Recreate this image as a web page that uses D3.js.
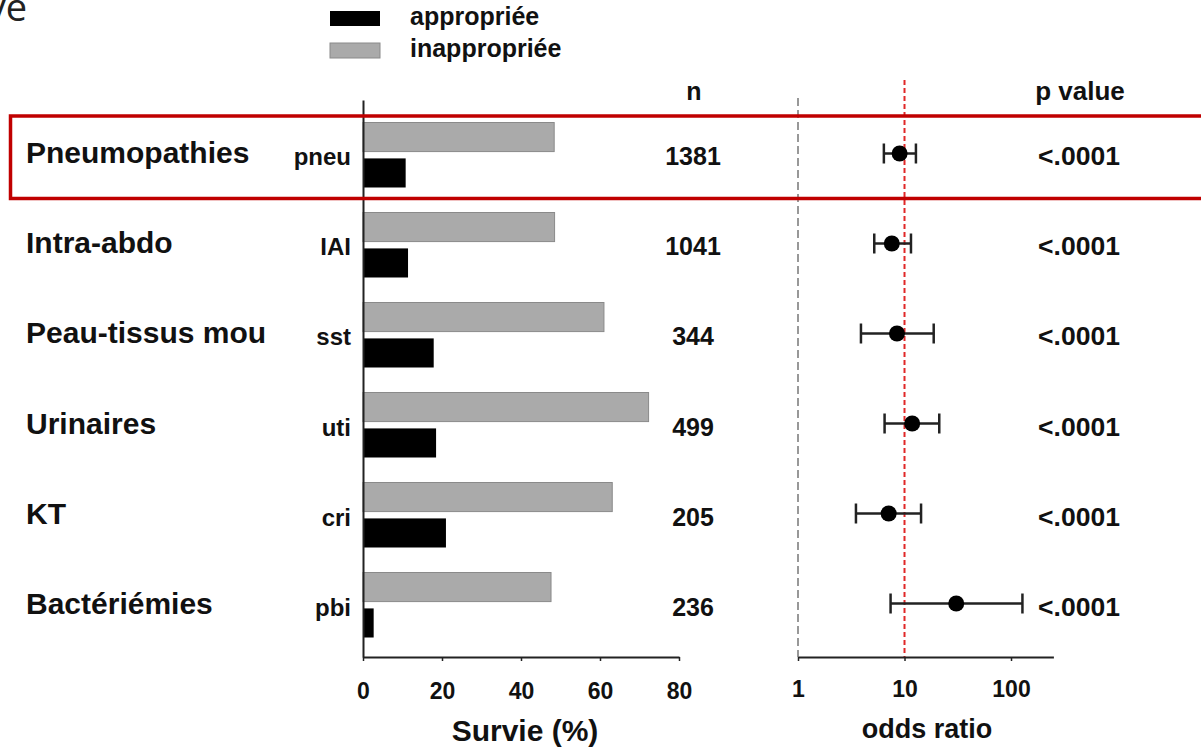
<!DOCTYPE html>
<html>
<head>
<meta charset="utf-8">
<script src="https://cdn.jsdelivr.net/npm/d3@7"></script>
<style>
  html, body { margin: 0; padding: 0; background: #fff; }
  svg { display: block; }
  .chart-text { font-family: "Liberation Sans", Arial, sans-serif; font-weight: bold; fill: #111; }
</style>
</head>
<body>
<svg id="chart" width="1201" height="750"></svg>
<script>
// Infection sites (short codes on the bar axis, full names on the left)
const siteCodes = ["pneu", "IAI", "sst", "uti", "cri", "pbi"];
const siteNames = ["Pneumopathies", "Intra-abdo", "Peau-tissus mou", "Urinaires", "KT", "Bactériémies"];

// Survival (%) by antibiotic therapy adequacy
const survieAppropriee = [10.8, 11.4, 17.9, 18.5, 21.0, 2.7];
const survieInappropriee = [48.4, 48.5, 61.0, 72.3, 63.1, 47.6];

// Number of patients per site
const nPatients = [1381, 1041, 344, 499, 205, 236];

// Odds ratios with 95% confidence intervals
const oddsRatio = [9.0, 7.6, 8.5, 11.8, 7.1, 30.6];
const ciLow = [6.4, 5.2, 3.9, 6.5, 3.5, 7.4];
const ciHigh = [12.8, 11.5, 18.8, 21.2, 14.3, 128];
const pValues = ["<.0001", "<.0001", "<.0001", "<.0001", "<.0001", "<.0001"];

// Axis ticks
const survieTicks = [0, 20, 40, 60, 80];
const oddsTicks = [1, 10, 100];

// Legend series
const seriesNames = ["appropriée", "inappropriée"];
const seriesColors = { "appropriée": "#000000", "inappropriée": "#aaaaaa" };

const svg = d3.select("#chart");

// ---- scales ----
const y = d3.scaleBand().domain(siteCodes).range([100, 657]).paddingInner(0).paddingOuter(0.0944);
const yInner = d3.scaleBand().domain(["inappropriée", "appropriée"]).range([14, 79]).paddingInner(0.19);
const xSurv = d3.scaleLinear().domain([0, 80]).range([363, 679]);
const xOdds = d3.scaleLog().domain([1, 250]).range([798, 1053.4]);

const rows = siteCodes.map((code, i) => ({
  code, name: siteNames[i],
  appropriee: survieAppropriee[i], inappropriee: survieInappropriee[i],
  n: nPatients[i], or: oddsRatio[i], lo: ciLow[i], hi: ciHigh[i], p: pValues[i]
}));

// ---- legend ----
const legend = svg.append("g");
seriesNames.forEach((s, i) => {
  legend.append("rect")
    .attr("x", 330).attr("y", 11 + i * 32).attr("width", 50).attr("height", 15)
    .attr("fill", seriesColors[s])
    .attr("stroke", s === "inappropriée" ? "#8a8a8a" : "none").attr("stroke-width", 1);
  legend.append("text").attr("class", "chart-text")
    .attr("x", 410).attr("y", 25 + i * 32)
    .attr("font-size", 25).text(s);
});

// ---- slide title fragment ----
svg.append("text").attr("x", 27).attr("y", 21).attr("text-anchor", "end")
  .attr("font-family", "'Open Sans', 'Noto Sans', sans-serif").attr("font-size", 38)
  .attr("fill", "#222").text("ve");

// ---- bars ----
const groups = svg.append("g").selectAll("g").data(rows).join("g")
  .attr("transform", d => `translate(0,${y(d.code)})`);

groups.append("rect")
  .attr("x", xSurv(0)).attr("y", yInner("inappropriée"))
  .attr("width", d => xSurv(d.inappropriee) - xSurv(0)).attr("height", yInner.bandwidth())
  .attr("fill", seriesColors["inappropriée"]).attr("stroke", "#8a8a8a").attr("stroke-width", 1);

groups.append("rect")
  .attr("x", xSurv(0)).attr("y", yInner("appropriée"))
  .attr("width", d => xSurv(d.appropriee) - xSurv(0)).attr("height", yInner.bandwidth())
  .attr("fill", seriesColors["appropriée"]);

// ---- bar axes ----
const yAxis = svg.append("g").attr("transform", `translate(${xSurv(0)},0)`)
  .call(d3.axisLeft(y).tickSize(0).tickPadding(12));
yAxis.select(".domain").attr("stroke", "#222").attr("stroke-width", 2);
yAxis.selectAll("text").attr("class", "chart-text").attr("font-size", 24).attr("dy", "0.5em");

const xAxis = svg.append("g").attr("transform", "translate(0,657)")
  .call(d3.axisBottom(xSurv).tickValues(survieTicks).tickSizeInner(4).tickSizeOuter(0).tickPadding(22));
xAxis.select(".domain").attr("stroke", "#222").attr("stroke-width", 2);
xAxis.selectAll(".tick line").attr("stroke", "#222").attr("stroke-width", 1.5);
xAxis.selectAll("text").attr("class", "chart-text").attr("font-size", 23);

svg.append("text").attr("class", "chart-text").attr("x", 525).attr("y", 741)
  .attr("text-anchor", "middle").attr("font-size", 30).attr("fill", "#000").text("Survie (%)");

// ---- site names ----
svg.append("g").selectAll("text").data(rows).join("text")
  .attr("class", "chart-text")
  .attr("x", 26).attr("y", d => y(d.code) + y.bandwidth() / 2 + 10)
  .attr("font-size", 30).attr("fill", "#000").text(d => d.name);

// ---- n column ----
svg.append("text").attr("class", "chart-text").attr("x", 694).attr("y", 100)
  .attr("text-anchor", "middle").attr("font-size", 25).text("n");
svg.append("g").selectAll("text").data(rows).join("text")
  .attr("class", "chart-text")
  .attr("x", 693).attr("y", d => y(d.code) + y.bandwidth() / 2 + 12)
  .attr("text-anchor", "middle").attr("font-size", 25).text(d => d.n);

// ---- odds ratio panel ----
svg.append("line")
  .attr("x1", xOdds(1)).attr("x2", xOdds(1)).attr("y1", 98).attr("y2", 657)
  .attr("stroke", "#777").attr("stroke-width", 1.5).attr("stroke-dasharray", "8,4");
svg.append("line")
  .attr("x1", xOdds(10)).attr("x2", xOdds(10)).attr("y1", 80).attr("y2", 657)
  .attr("stroke", "#e02828").attr("stroke-width", 2).attr("stroke-dasharray", "5,3");

const oAxis = svg.append("g").attr("transform", "translate(0,657)")
  .call(d3.axisBottom(xOdds).tickValues(oddsTicks).tickFormat(d3.format("d"))
    .tickSizeInner(4).tickSizeOuter(0).tickPadding(20));
oAxis.select(".domain").attr("stroke", "#222").attr("stroke-width", 2);
oAxis.selectAll(".tick line").attr("stroke", "#222").attr("stroke-width", 1.5);
oAxis.selectAll("text").attr("class", "chart-text").attr("font-size", 23);

svg.append("text").attr("class", "chart-text").attr("x", 927).attr("y", 738)
  .attr("text-anchor", "middle").attr("font-size", 27).text("odds ratio");

const forest = svg.append("g").selectAll("g").data(rows).join("g")
  .attr("transform", d => `translate(0,${y(d.code) + y.bandwidth() / 2})`);
forest.append("line")
  .attr("x1", d => xOdds(d.lo)).attr("x2", d => xOdds(d.hi))
  .attr("stroke", "#222").attr("stroke-width", 2.5);
forest.append("line")
  .attr("x1", d => xOdds(d.lo)).attr("x2", d => xOdds(d.lo)).attr("y1", -10).attr("y2", 10)
  .attr("stroke", "#222").attr("stroke-width", 2.5);
forest.append("line")
  .attr("x1", d => xOdds(d.hi)).attr("x2", d => xOdds(d.hi)).attr("y1", -10).attr("y2", 10)
  .attr("stroke", "#222").attr("stroke-width", 2.5);
forest.append("circle")
  .attr("cx", d => xOdds(d.or)).attr("r", 8).attr("fill", "#000");

// ---- p values ----
svg.append("text").attr("class", "chart-text").attr("x", 1080).attr("y", 100)
  .attr("text-anchor", "middle").attr("font-size", 26).text("p value");
svg.append("g").selectAll("text").data(rows).join("text")
  .attr("class", "chart-text")
  .attr("x", 1079).attr("y", d => y(d.code) + y.bandwidth() / 2 + 12)
  .attr("text-anchor", "middle").attr("font-size", 26.5).text(d => d.p);

// ---- highlight box around the first row ----
svg.append("rect")
  .attr("x", 10.5).attr("y", y(siteCodes[0]) + 7.5)
  .attr("width", 1210).attr("height", y.bandwidth() - 7.5)
  .attr("fill", "none").attr("stroke", "#c00000").attr("stroke-width", 3.5);
</script>
</body>
</html>
